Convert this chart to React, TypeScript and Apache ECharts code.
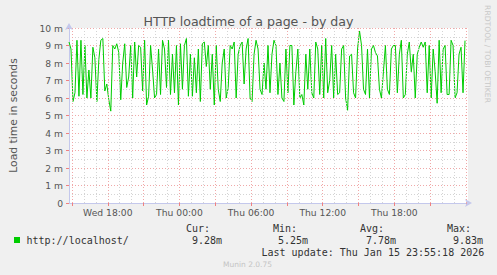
import React, { useEffect, useRef } from 'react';
import * as echarts from 'echarts';

// time is in hours counted from Wed 00:00; samples every 10 minutes
const START_HOUR = 14.75;
const STEP_HOURS = 1 / 6;
const X_MIN = 14.75;
const X_MAX = 48.1667;

// load time in milliseconds (left to right)
const loadtimePart1 = [9.2, 8.8, 5.8, 6.3, 9.3, 6.1, 9.3, 6.2, 9.0, 6.0, 7.6, 6.0, 8.9, 8.3, 5.8, 8.2, 9.3, 9.4, 6.4, 6.8, 5.9, 5.25, 9.0, 8.8, 9.1, 8.6, 5.9, 8.0, 9.1, 6.6, 7.2, 9.0, 6.0, 9.2, 7.2];
const loadtimePart2 = [9.0, 8.9, 6.4, 9.3, 5.6, 6.1, 9.0, 7.6, 6.0, 6.2, 8.8, 6.2, 9.3, 8.8, 6.6, 9.3, 6.2, 8.5, 6.3, 9.0, 5.6, 9.1, 6.5, 9.0, 9.4, 6.1, 8.5, 6.1, 8.3, 6.3, 8.8, 5.8, 9.1, 9.2];
const loadtimePart3 = [7.8, 9.0, 6.5, 8.5, 5.6, 9.0, 6.5, 5.8, 8.0, 8.8, 6.0, 6.6, 9.0, 8.8, 9.2, 6.0, 8.5, 9.0, 9.2, 6.8, 8.8, 9.4, 6.0, 5.8, 8.5, 9.3, 8.8, 6.5, 6.2, 8.0, 6.5, 9.0, 6.3, 8.5];
const loadtimePart4 = [9.3, 9.0, 6.2, 8.0, 6.0, 5.8, 8.8, 6.3, 9.0, 9.0, 5.6, 7.5, 8.8, 6.0, 6.2, 5.6, 8.5, 6.5, 8.8, 6.3, 6.0, 9.2, 8.8, 6.2, 9.0, 6.0, 9.4, 6.3, 7.0, 9.0, 6.0, 8.5, 6.2, 6.3];
const loadtimePart5 = [8.8, 9.0, 6.0, 5.3, 8.4, 8.5, 6.3, 6.0, 8.8, 9.83, 9.0, 6.5, 6.2, 8.8, 6.0, 8.8, 9.0, 8.6, 8.4, 6.5, 6.0, 7.5, 9.0, 6.5, 6.2, 8.8, 9.0, 9.0, 6.3, 8.5, 9.3, 6.0, 6.2, 8.5];
const loadtimePart6 = [9.2, 7.5, 8.5, 6.0, 8.5, 8.9, 9.2, 8.9, 9.2, 6.3, 9.0, 6.0, 8.8, 7.5, 5.7, 9.3, 6.3, 8.8, 9.0, 6.2, 6.2, 9.3, 9.0, 6.0, 6.3, 8.5, 8.9, 6.3, 9.28];
const loadtime = [...loadtimePart1, ...loadtimePart2, ...loadtimePart3, ...loadtimePart4, ...loadtimePart5, ...loadtimePart6];

const xLabelHours = [18, 24, 30, 36, 42];
const xLabelTexts = ['Wed 18:00', 'Thu 00:00', 'Thu 06:00', 'Thu 12:00', 'Thu 18:00'];
const majorHours = [15, 18, 21, 24, 27, 30, 33, 36, 39, 42, 45, 48];
const minorHours = [16, 17, 19, 20, 22, 23, 25, 26, 28, 29, 31, 32, 34, 35, 37, 38, 40, 41, 43, 44, 46, 47];

const seriesName = 'http://localhost/';
const statHeads = ['Cur:', 'Min:', 'Avg:', 'Max:'];
const statValues = ['9.28m', '5.25m', '7.78m', '9.83m'];
const lastUpdate = 'Last update: Thu Jan 15 23:55:18 2026';

const RED = '#f0a8a8';
const GREY = '#d4d4d4';
const AXIS = '#c4c8ec';
const MONO = 'DejaVu Sans Mono';
const SANS = 'DejaVu Sans';

export default function App() {
  const ref = useRef<HTMLDivElement>(null);
  useEffect(() => {
    if (!ref.current) return;
    const chart = echarts.init(ref.current, undefined, { renderer: 'svg' });
    const points = loadtime.map((v, i) => [START_HOUR + i * STEP_HOURS, v]);
    const statX = [[186, 192], [273, 278], [360, 366], [447, 453]];
    const graphics: any[] = [
      { type: 'rect', shape: { x: 14, y: 237, width: 6, height: 6 }, style: { fill: '#00cc00' } },
      { type: 'text', x: 26.5, y: 240, style: { text: seriesName, font: `10px "${MONO}"`, fill: '#333', textVerticalAlign: 'middle' } },
      { type: 'text', x: 261.5, y: 252, style: { text: lastUpdate, font: `10px "${MONO}"`, fill: '#333', textVerticalAlign: 'middle' } },
      { type: 'text', x: 247.5, y: 264, style: { text: 'Munin 2.0.75', font: `7.5px "${SANS}"`, fill: '#c4c4c4', textAlign: 'center', textVerticalAlign: 'middle' } },
      { type: 'text', x: 487, y: 54, rotation: -Math.PI / 2, style: { text: 'RRDTOOL / TOBI OETIKER', font: `7.6px "${SANS}"`, fill: '#c8c8c8', textAlign: 'center', textVerticalAlign: 'middle' } },
    ];
    statHeads.forEach((h, i) => {
      graphics.push({ type: 'text', x: statX[i][0], y: 228, style: { text: h, font: `10px "${MONO}"`, fill: '#333', textVerticalAlign: 'middle' } });
      graphics.push({ type: 'text', x: statX[i][1], y: 240, style: { text: statValues[i], font: `10px "${MONO}"`, fill: '#333', textVerticalAlign: 'middle' } });
    });

    chart.setOption({
      animation: false,
      backgroundColor: '#f0f0f0',
      title: {
        text: 'HTTP loadtime of a page - by day',
        left: 'center',
        top: 10,
        textStyle: { fontFamily: SANS, fontSize: 12.6, fontWeight: 'normal', color: '#555' },
      },
      grid: { left: 67, top: 28, width: 401, height: 175, show: true, backgroundColor: '#ffffff', borderWidth: 0 },
      xAxis: {
        type: 'value',
        min: X_MIN,
        max: X_MAX,
        axisLine: { show: true, lineStyle: { color: AXIS, width: 1 }, symbol: ['none', 'arrow'], symbolSize: [6, 7], symbolOffset: [0, 4] },
        axisTick: { show: true, customValues: majorHours, length: 3, inside: false, lineStyle: { color: '#f08080' } },
        axisLabel: {
          customValues: xLabelHours,
          formatter: (v: number) => {
            const i = xLabelHours.findIndex((h) => Math.abs(h - v) < 1e-6);
            return i >= 0 ? xLabelTexts[i] : '';
          },
          fontFamily: SANS,
          fontSize: 9.2,
          color: '#555',
          margin: 5,
        },
        splitLine: { show: false },
      },
      yAxis: {
        type: 'value',
        min: 0,
        max: 10,
        interval: 1,
        name: 'Load time in seconds',
        nameLocation: 'middle',
        nameGap: 50,
        nameTextStyle: { fontFamily: SANS, fontSize: 10.8, color: '#555' },
        axisLine: { show: true, lineStyle: { color: AXIS, width: 1 }, symbol: ['none', 'arrow'], symbolSize: [6, 7], symbolOffset: [0, 5] },
        axisTick: { show: true, length: 3, lineStyle: { color: '#f08080' } },
        axisLabel: {
          formatter: (v: number) => (v === 0 ? '0' : `${v} m`),
          fontFamily: SANS,
          fontSize: 9.2,
          color: '#555',
          margin: 6,
        },
        splitLine: { show: true, lineStyle: { color: RED, type: [1, 2], width: 1 } },
        minorTick: { show: false, splitNumber: 2 },
        minorSplitLine: { show: true, lineStyle: { color: GREY, type: [1, 2], width: 1 } },
      },
      series: [
        {
          type: 'line',
          data: [],
          z: 1,
          silent: true,
          markLine: {
            silent: true,
            symbol: ['none', 'none'],
            label: { show: false },
            animation: false,
            data: [
              ...minorHours.map((h) => ({ xAxis: h, lineStyle: { color: GREY, type: [1, 2], width: 1 } })),
              ...majorHours.map((h) => ({ xAxis: h, lineStyle: { color: RED, type: [1, 2], width: 1 } })),
            ],
          },
        },
        {
          type: 'line',
          name: seriesName,
          data: points,
          z: 3,
          showSymbol: false,
          symbol: 'none',
          lineStyle: { color: '#00cc00', width: 1 },
        },
      ],
      graphic: graphics,
    });
    return () => chart.dispose();
  }, []);
  return <div ref={ref} style={{ position: 'fixed', left: 0, top: 0, width: 497, height: 275 }} />;
}
